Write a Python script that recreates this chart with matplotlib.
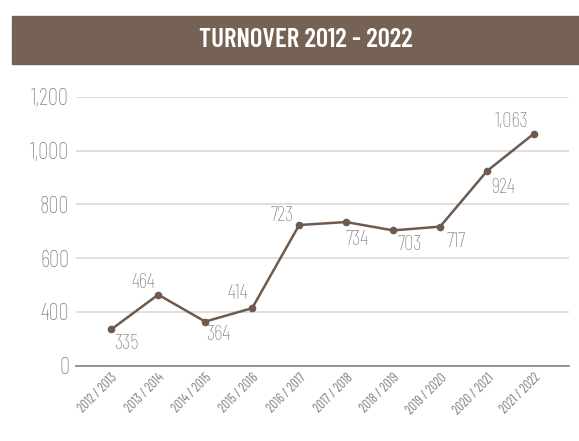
import matplotlib.pyplot as plt
from matplotlib.patches import Rectangle

years = ["2012 / 2013", "2013 / 2014", "2014 / 2015", "2015 / 2016", "2016 / 2017",
         "2017 / 2018", "2018 / 2019", "2019 / 2020", "2020 / 2021", "2021 / 2022"]
turnover = [335, 464, 364, 414, 723, 734, 703, 717, 924, 1063]
# the axis is broken: bottom gridline is labelled 0
ytick_vals = [200, 400, 600, 800, 1000, 1200]
ytick_labels = ["0", "400", "600", "800", "1,000", "1,200"]

# label placement: (dx px, dy px, ha, va)
label_pos = [(3, -5, "left", "top"), (-3, 3, "right", "bottom"), (1, -3, "left", "top"),
             (-4, 5, "right", "bottom"), (-6, 0, "right", "bottom"), (-1, -8, "left", "top"),
             (4, -5, "left", "top"), (6, -5, "left", "top"), (4, -7, "left", "top"),
             (-6, 3, "right", "bottom")]

plt.rcParams['font.family'] = ['Barlow Condensed', 'DejaVu Sans']
brown = "#6f5a4e"
grey = "#7f7f7f"

fig = plt.figure(figsize=(5.79, 4.41), dpi=100)

# title banner
fig.patches.append(Rectangle((11.8 / 579, 1 - 64 / 441), 1, 48.5 / 441,
                             transform=fig.transFigure, color="#766155", zorder=0))
fig.text(306 / 579, 1 - 40 / 441, "TURNOVER 2012 - 2022", color="white",
         fontsize=19.3, fontweight="semibold", ha="center", va="center")

ax = fig.add_axes([76 / 579, 1 - 365.7 / 441, (569.3 - 76) / 579, (365.7 - 96.7) / 441])
x = list(range(len(years)))
ax.plot(x, turnover, color=brown, linewidth=1.8, marker="o", markersize=4.5, zorder=3)

for i, v in enumerate(turnover):
    dx, dy, ha, va = label_pos[i]
    ax.annotate(f"{v:,}", (i, v), xytext=(dx * 0.72, dy * 0.72),
                textcoords="offset points", ha=ha, va=va, fontsize=15,
                fontweight="light", color=grey)

ax.set_xlim(-0.75, len(years) - 0.25)
ax.set_ylim(200, 1200)
ax.set_yticks(ytick_vals)
ax.set_yticklabels(ytick_labels, fontweight="light")
ax.set_xticks(x)
ax.set_xticklabels(years, rotation=45, ha="right", rotation_mode="anchor")
ax.tick_params(axis="y", length=0, pad=5, labelsize=16.5, labelcolor=grey)
ax.tick_params(axis="x", length=0, pad=4, labelsize=9.5, labelcolor=grey)
ax.grid(axis="y", color="#d9d9d9", linewidth=1.2)
ax.set_axisbelow(True)
for s in ["top", "right", "left"]:
    ax.spines[s].set_visible(False)
ax.spines["bottom"].set_color("#8c8c8c")
ax.spines["bottom"].set_linewidth(1.3)

fig.savefig("out.png", dpi=100)
